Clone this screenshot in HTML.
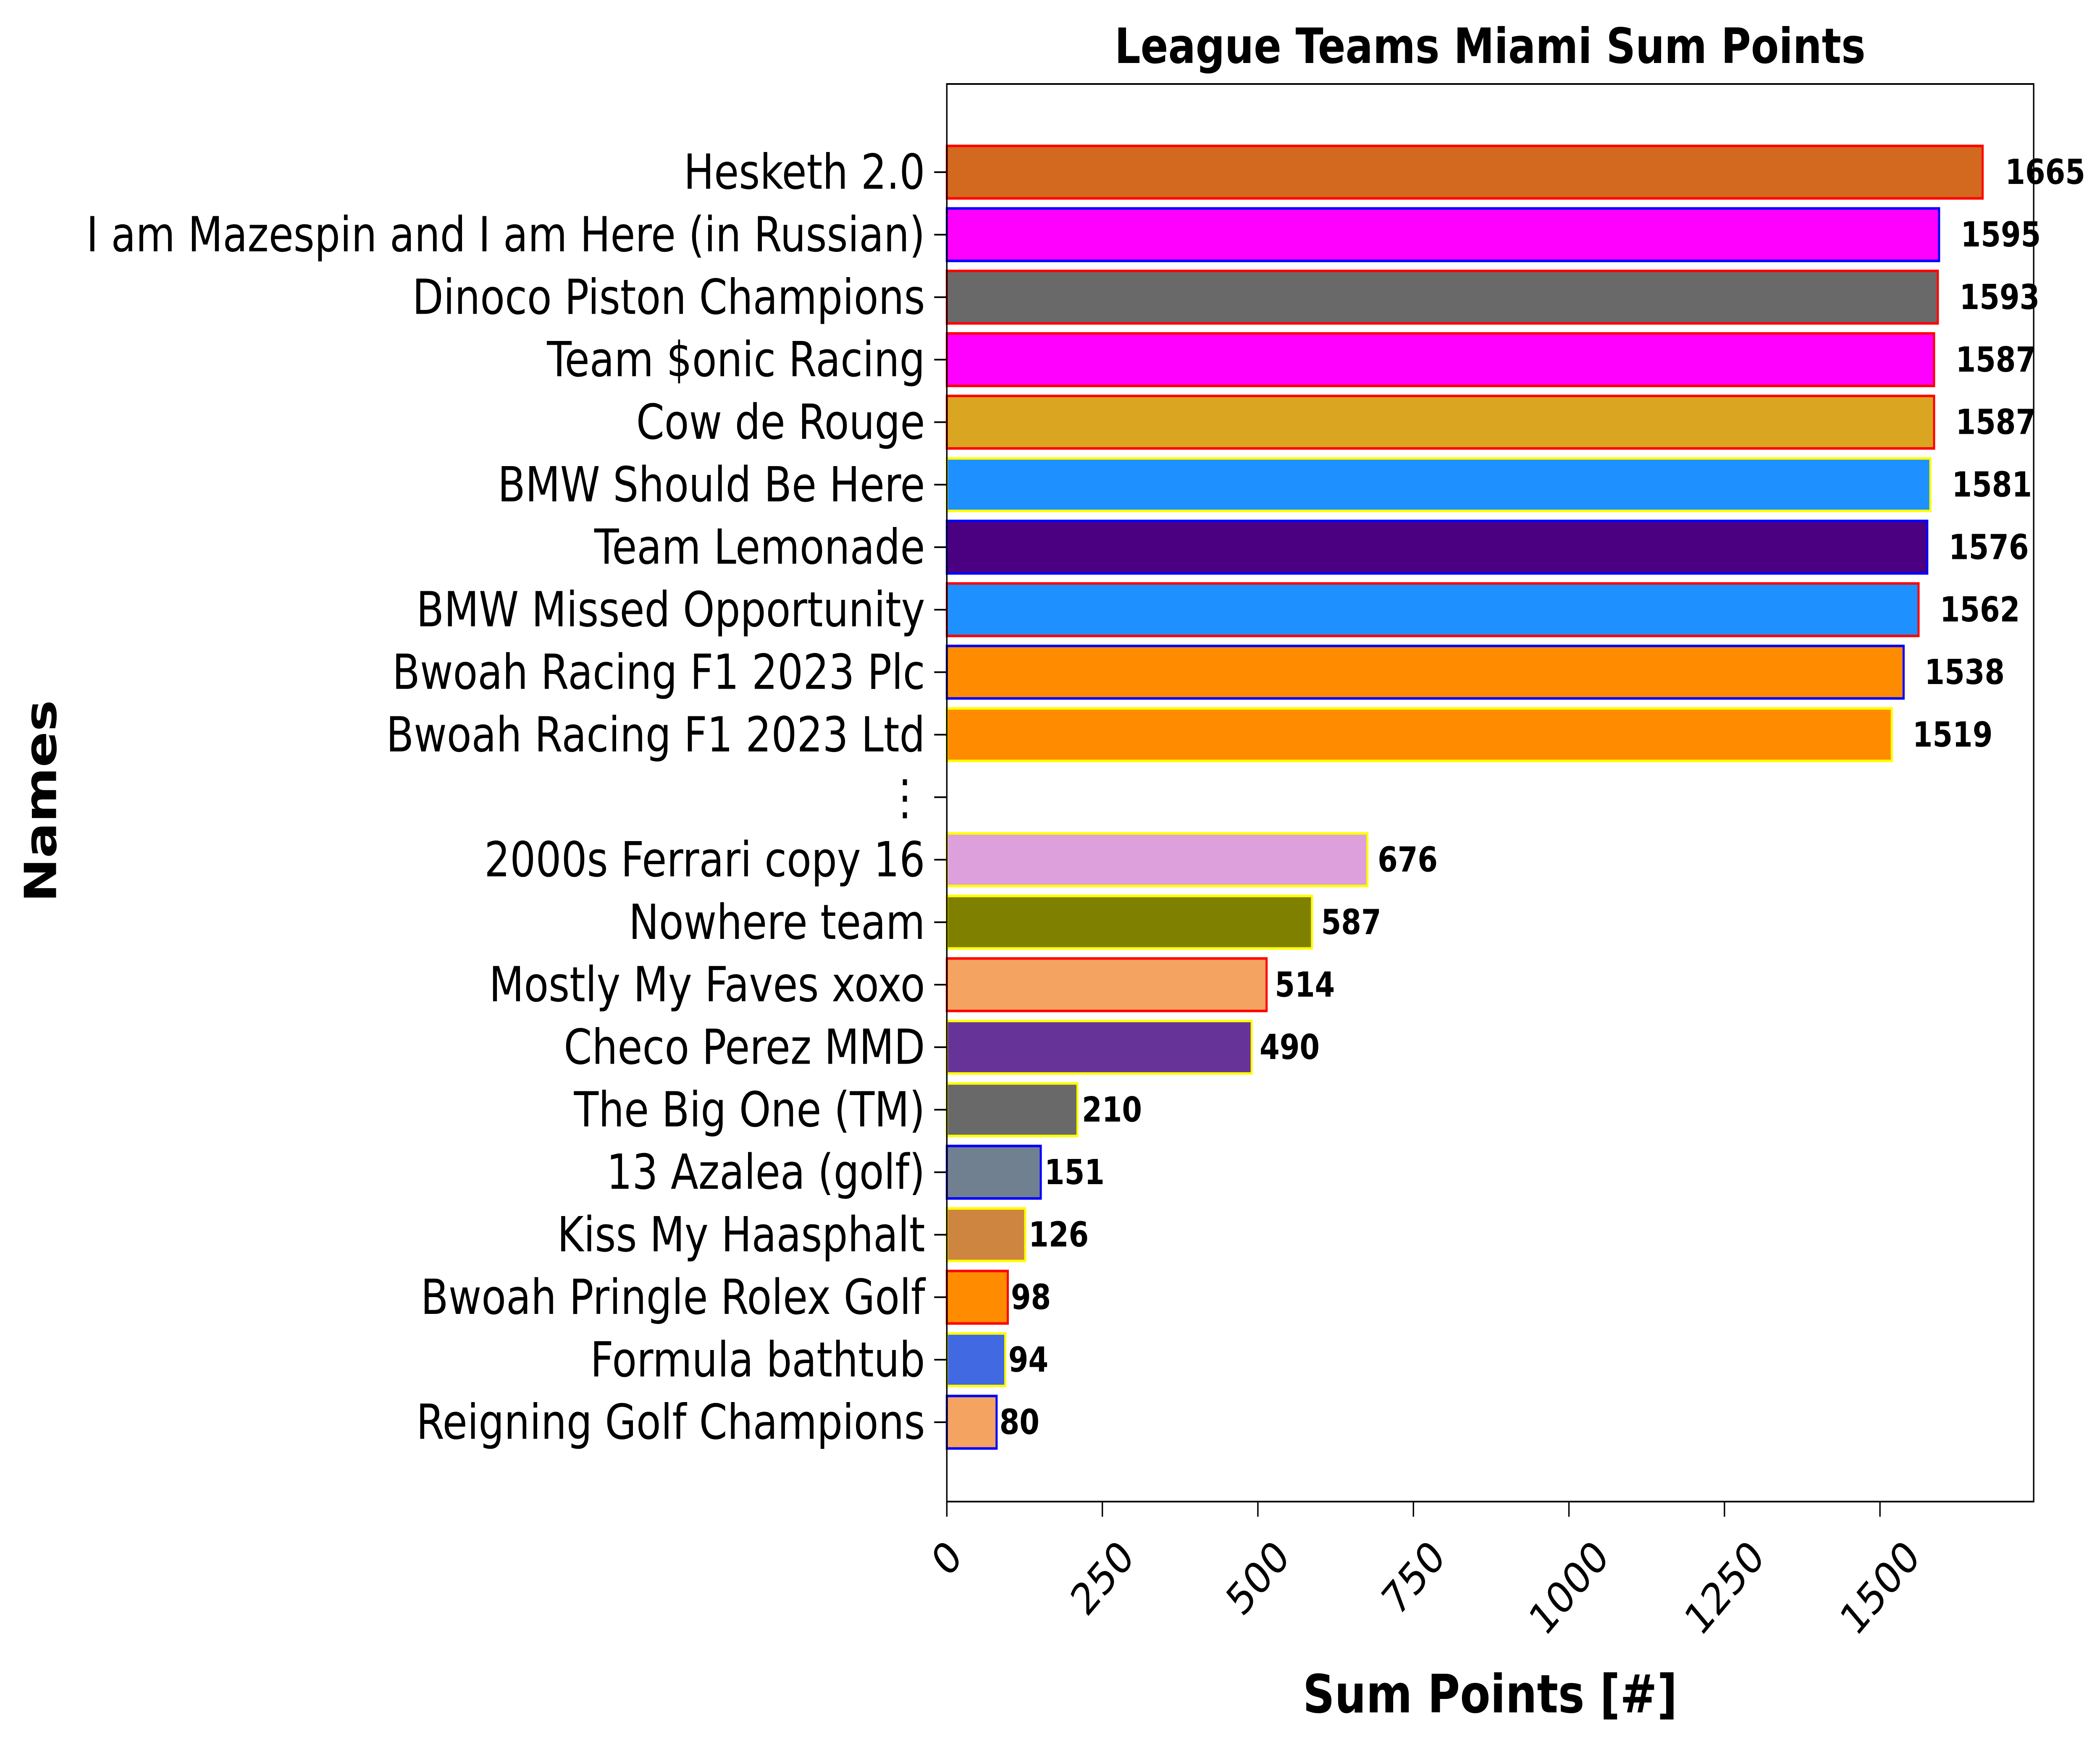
<!DOCTYPE html>
<html><head><meta charset="utf-8"><style>
html,body{margin:0;padding:0;background:#fff;width:100%;height:100%;overflow:hidden;}
svg{display:block;width:100vw;height:100vh;font-family:"DejaVu Sans","Liberation Sans",sans-serif;}
</style></head><body>
<svg id="chart" viewBox="0 0 5984 4139" preserveAspectRatio="none">
<rect width="5984" height="4139" fill="#fff"/>
<text x="4246" y="150" font-size="116" font-weight="bold" text-anchor="middle">League Teams Miami Sum Points</text>
<g id="bars"></g>
<g id="ylabels"></g>
<g id="xticks"></g>
<rect x="2698" y="200" width="3097" height="3376" fill="none" stroke="#000" stroke-width="4"/>
<text x="0" y="0" font-size="126" font-weight="bold" text-anchor="middle" transform="translate(160,1908) rotate(-90)">Names</text>
<text x="4246" y="4078" font-size="126" font-weight="bold" text-anchor="middle">Sum Points [#]</text>
</svg>
<script>
const names = ["Hesketh 2.0","I am Mazespin and I am Here (in Russian)","Dinoco Piston Champions","Team $onic Racing","Cow de Rouge","BMW Should Be Here","Team Lemonade","BMW Missed Opportunity","Bwoah Racing F1 2023 Plc","Bwoah Racing F1 2023 Ltd","⋮","2000s Ferrari copy 16","Nowhere team","Mostly My Faves xoxo","Checo Perez MMD","The Big One (TM)","13 Azalea (golf)","Kiss My Haasphalt","Bwoah Pringle Rolex Golf","Formula bathtub","Reigning Golf Champions"];
const values = [1665,1595,1593,1587,1587,1581,1576,1562,1538,1519,null,676,587,514,490,210,151,126,98,94,80];
const fills = ["#D2691E","#FF00FF","#696969","#FF00FF","#DAA520","#1E90FF","#4B0082","#1E90FF","#FF8C00","#FF8C00",null,"#DDA0DD","#808000","#F4A460","#663399","#696969","#708090","#CD853F","#FF8C00","#4169E1","#F4A460"];
const edges = ["#FF0000","#0000FF","#FF0000","#FF0000","#FF0000","#FFFF00","#0000FF","#FF0000","#0000FF","#FFFF00",null,"#FFFF00","#FFFF00","#FF0000","#FFFF00","#FFFF00","#0000FF","#FFFF00","#FF0000","#FFFF00","#0000FF"];
const xTicks = [0,250,500,750,1000,1250,1500];

const NS="http://www.w3.org/2000/svg";
const X0=2698, PX=1.7727;
function xs(v){return X0+v*PX;}
function ys(i){return 410+i*148.85;}
const BH=125;
const gb=document.getElementById('bars'), gy=document.getElementById('ylabels'), gx=document.getElementById('xticks');
function mk(tag,attrs,parent){const e=document.createElementNS(NS,tag);for(const k in attrs)e.setAttribute(k,attrs[k]);parent.appendChild(e);return e;}
names.forEach((n,i)=>{
  const y=ys(i);
  const t=mk('line',{x1:2662,x2:2698,y1:y,y2:y,stroke:'#000','stroke-width':4},gy);
  
  
  const lb=mk('text',{x:2636,y:y,'font-size':115,'text-anchor':'end','dominant-baseline':'central'},gy);
  lb.textContent=n;
  
  
  const v=values[i];
  if(v===null) return;
  const r=mk('rect',{x:X0,y:y-BH/2,width:xs(v)-X0,height:BH,fill:fills[i],stroke:edges[i],'stroke-width':6},gb);
  
  
  const vt=mk('text',{x:xs(v*1.02+3),y:y,'font-size':82,'font-weight':'bold','dominant-baseline':'central'},gb);
  vt.textContent=String(v);
  
  
});
xTicks.forEach(v=>{
  const x=xs(v);
  const t=mk('line',{x1:x,x2:x,y1:3576,y2:3612,stroke:'#000','stroke-width':4},gx);
  
  
  const s=String(v);
  const fs=104, w=s.length*0.636*fs, h=0.76*fs;
  const bh=(w+h)*0.7071;
  const cy=3660+bh/2;
  const lb=mk('text',{x:0,y:0,'font-size':fs,'text-anchor':'middle','dominant-baseline':'central',transform:`translate(${x},${cy}) rotate(-45)`},gx);
  lb.textContent=s;
  
  
});
</script>
</body></html>
